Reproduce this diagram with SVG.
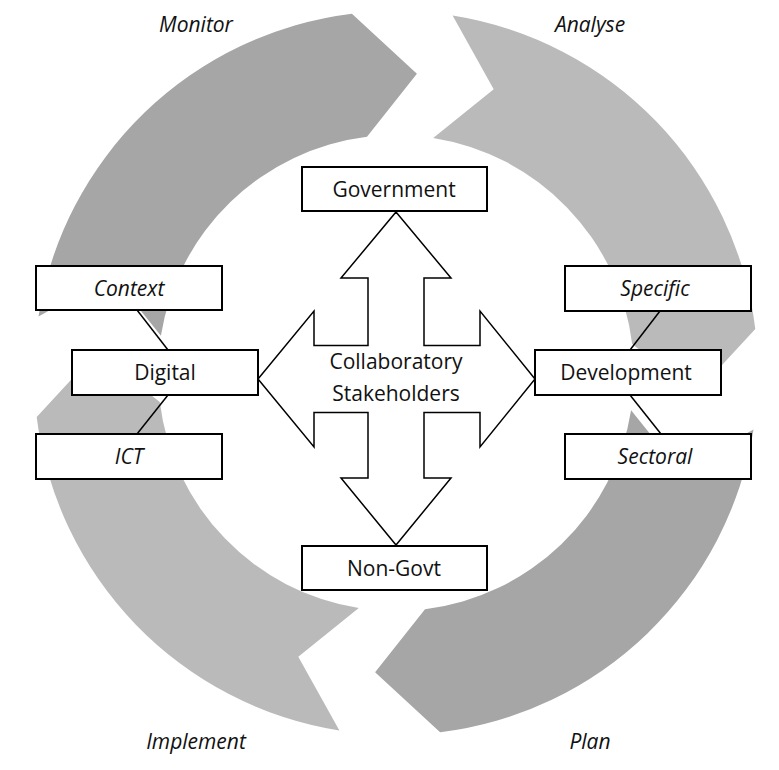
<svg xmlns="http://www.w3.org/2000/svg" width="779" height="770" viewBox="0 0 779 770">
<style>
.box{fill:#fff;stroke:#000;stroke-width:2}
.t{font-family:"Open Sans","DejaVu Sans",sans-serif;font-size:21px;fill:#111;text-anchor:middle;dominant-baseline:central}
.i{font-style:italic}
.c{stroke:#000;stroke-width:1.5;fill:none}
</style>
<defs>
<path id="arc" d="M38.5,316.4 A362,362 0 0 1 351.9,13.7 L416.9,73.7 L367,136.8 A238,238 0 0 0 160.9,335.8 L112.3,275.3 Z"/>
</defs>
<rect width="779" height="770" fill="#fff"/>
<g id="cycle">
<use href="#arc" fill="#a6a6a6"/>
<use href="#arc" fill="#bababa" transform="rotate(90 396 373)"/>
<use href="#arc" fill="#a6a6a6" transform="rotate(180 396 373)"/>
<use href="#arc" fill="#bababa" transform="rotate(270 396 373)"/>
</g>
<g id="stage-labels">
<text class="t i" x="196" y="24">Monitor</text>
<text class="t i" x="590" y="24">Analyse</text>
<text class="t i" x="196" y="741">Implement</text>
<text class="t i" x="590" y="741">Plan</text>
</g>
<g id="connectors">
<line class="c" x1="137" y1="310" x2="168" y2="350"/>
<line class="c" x1="168" y1="395" x2="137" y2="434"/>
<line class="c" x1="660" y1="311" x2="630" y2="350"/>
<line class="c" x1="630" y1="395" x2="661" y2="434"/>
</g>
<g id="stakeholders">
<polygon fill="#fff" stroke="#000" stroke-width="1.5" points="396,212 451,278 424,278 424,345.5 480,345.5 480,311 535,379 480,447 480,412.5 424,412.5 424,478 451,478 396,545 341,478 368,478 368,412.5 314,412.5 314,447 258,379 314,311 314,345.5 368,345.5 368,278 341,278"/>
<text class="t" x="396" y="361">Collaboratory</text>
<text class="t" x="396" y="393">Stakeholders</text>
</g>
<g id="government"><rect class="box" x="302" y="167" width="185" height="44"/><text class="t" x="394" y="189">Government</text></g>
<g id="nongovt"><rect class="box" x="302" y="546" width="185" height="44"/><text class="t" x="394" y="568">Non-Govt</text></g>
<g id="context"><rect class="box" x="36" y="266" width="186" height="44"/><text class="t i" x="129" y="288">Context</text></g>
<g id="digital"><rect class="box" x="72" y="350" width="186" height="45"/><text class="t" x="165" y="372">Digital</text></g>
<g id="ict"><rect class="box" x="36" y="434" width="186" height="45"/><text class="t i" x="129" y="456">ICT</text></g>
<g id="specific"><rect class="box" x="565" y="266" width="186" height="45"/><text class="t i" x="655" y="288">Specific</text></g>
<g id="development"><rect class="box" x="535" y="350" width="186" height="45"/><text class="t" x="626" y="372">Development</text></g>
<g id="sectoral"><rect class="box" x="565" y="434" width="186" height="45"/><text class="t i" x="655" y="456">Sectoral</text></g>
</svg>
